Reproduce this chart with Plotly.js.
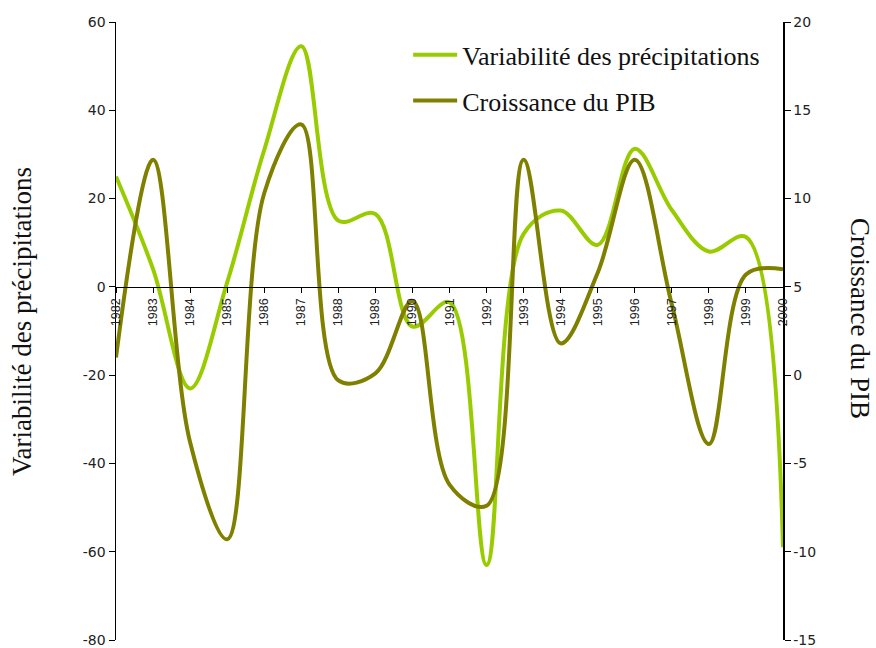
<!DOCTYPE html>
<html>
<head>
<meta charset="utf-8">
<script src="https://cdn.plot.ly/plotly-3.0.1.min.js"></script>
<style>html,body{margin:0;padding:0;background:#fff;}#chart{width:876px;height:648px;}</style>
</head>
<body>
<div id="chart"></div>
<script>
const years = [1982,1983,1984,1985,1986,1987,1988,1989,1990,1991,1992,1993,1994,1995,1996,1997,1998,1999,2000];
const yearLabels = years.map(String);
const precipitations = [25, 4, -23, 1, 31, 54.5, 15, 16.5, -9, -3.5, -63, 12, 17.3, 9.5, 31.3, 17.4, 8, 11.3, -59];
const pib = [1, 12.2, -3.8, -9.3, 10.3, 14.2, -0.3, 0.1, 4.2, -6.2, -7.4, 12.2, 1.8, 5.8, 12.2, 4, -3.9, 5.7, 6.0];
const leftTicks = [-80, -60, -40, -20, 0, 20, 40, 60];
const leftTickText = ["-80", "-60", "-40", "-20", "0", "20", "40", "60"];
const rightTicks = [-15, -10, -5, 0, 5, 10, 15, 20];
const rightTickText = ["-15", "-10", "-5", "0", "5", "10", "15", "20"];
const leftTitle = "Variabilité des précipitations";
const rightTitle = "Croissance du PIB";

const serif = "Liberation Serif, Times New Roman, serif";
const sans = "DejaVu Sans, Verdana, sans-serif";

const traces = [
  {x: years, y: precipitations, name: leftTitle, type: "scatter", mode: "lines",
   line: {color: "#99CC00", width: 4, shape: "spline", smoothing: 1}, yaxis: "y", legendgroup: "a"},
  {x: years, y: pib, name: rightTitle, type: "scatter", mode: "lines",
   line: {color: "#808000", width: 4, shape: "spline", smoothing: 1}, yaxis: "y2", legendgroup: "b"}
];

const layout = {
  width: 876, height: 648,
  margin: {l: 116, r: 93, t: 22, b: 8},
  paper_bgcolor: "#fff", plot_bgcolor: "rgba(0,0,0,0)",
  showlegend: true,
  legend: {x: 0.438, y: 0.985, xanchor: "left", yanchor: "top", bgcolor: "rgba(0,0,0,0)",
           font: {family: serif, size: 26, color: "#111"}, tracegroupgap: 9, itemwidth: 44},
  xaxis: {range: [1982, 2000], tickmode: "array", tickvals: years, ticktext: yearLabels,
          tickangle: -90, tickfont: {family: "Liberation Sans, Arial, sans-serif", size: 12.5, color: "#222"},
          ticks: "outside", ticklen: 5, tickcolor: "#000", showline: true, linecolor: "#000", linewidth: 1.5,
          showgrid: false, zeroline: false, anchor: "free", position: 80/140, fixedrange: true},
  yaxis: {range: [-80, 60], tickmode: "array", tickvals: leftTicks, ticktext: leftTickText,
          ticks: "outside", ticklen: 6, tickcolor: "#000",
          showline: true, linecolor: "#000", linewidth: 1.5, showgrid: false, zeroline: false,
          tickfont: {family: sans, size: 14, color: "#222"}, automargin: false},
  yaxis2: {range: [-15, 20], tickmode: "array", tickvals: rightTicks, ticktext: rightTickText,
           overlaying: "y", side: "right", ticks: "outside", ticklen: 6,
           tickcolor: "#000", showline: true, linecolor: "#000", linewidth: 1.5, showgrid: false, zeroline: false,
           tickfont: {family: sans, size: 14, color: "#222"}, automargin: false},
  yaxis3: {range: [-15, 20], tickmode: "array", tickvals: rightTicks, overlaying: "y", side: "right",
           ticks: "inside", ticklen: 6,
           tickcolor: "#000", showline: false, showgrid: false, zeroline: false, showticklabels: false},
  annotations: [
    {text: leftTitle, xref: "paper", yref: "paper", x: (22 - 116) / 667, y: (640 - 322) / 618,
     xanchor: "center", yanchor: "middle", textangle: -90, showarrow: false,
     font: {family: serif, size: 27, color: "#111"}},
    {text: rightTitle, xref: "paper", yref: "paper", x: (860 - 116) / 667, y: (640 - 318) / 618,
     xanchor: "center", yanchor: "middle", textangle: 90, showarrow: false,
     font: {family: serif, size: 27, color: "#111"}}
  ]
};

Plotly.newPlot("chart", traces, layout, {staticPlot: true, displayModeBar: false});
</script>
</body>
</html>
